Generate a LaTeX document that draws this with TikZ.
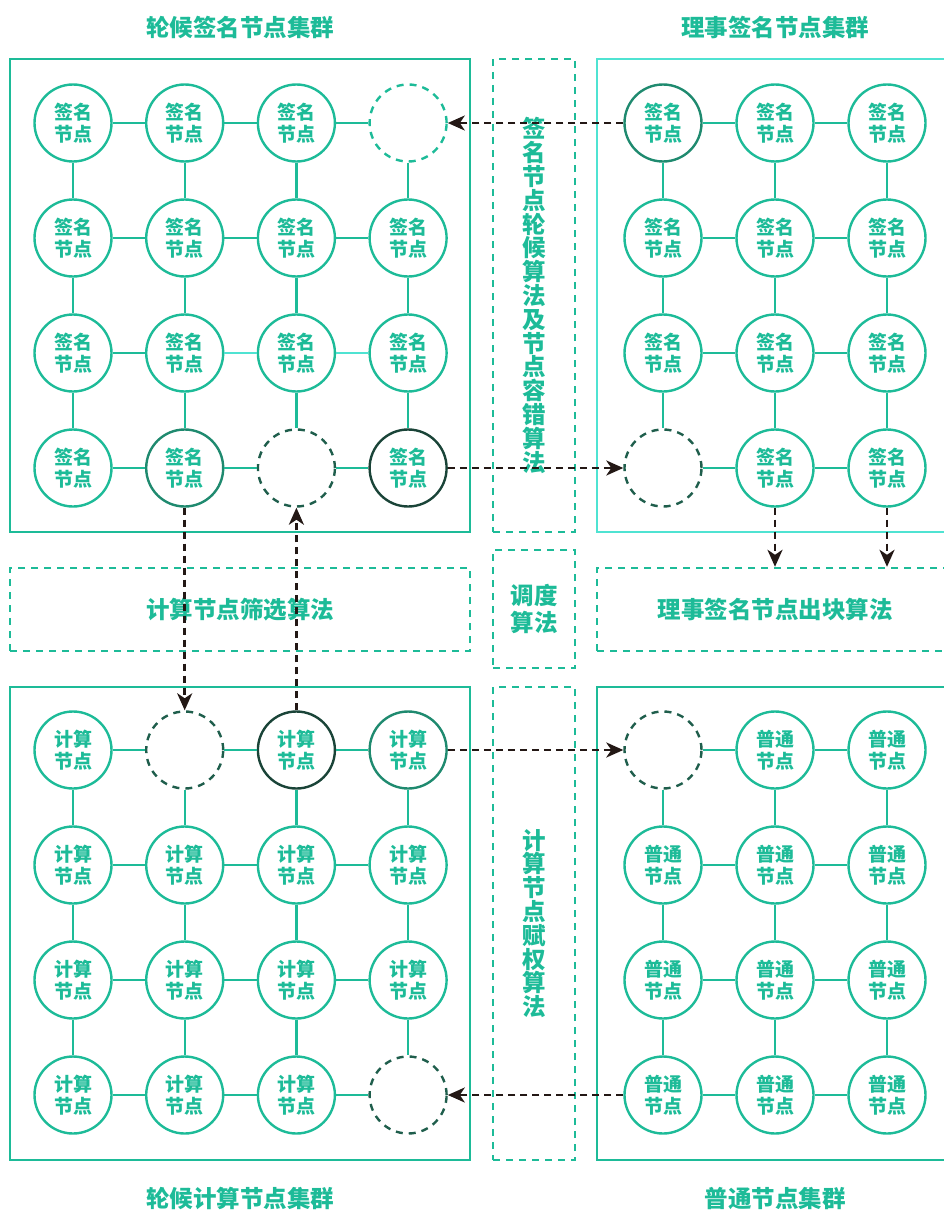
\documentclass[tikz,border=0pt]{standalone}
\usepackage{fontspec}
\newfontfamily\cjk{Noto Sans CJK SC}[BoldFont={Noto Sans CJK SC Black}]
\usetikzlibrary{arrows.meta}

\definecolor{mint}{HTML}{1DBB98}
\definecolor{mintlt}{HTML}{4FE3D2}
\definecolor{pine}{HTML}{1F8A6F}
\definecolor{forest}{HTML}{1A4438}
\definecolor{moss}{HTML}{1F5E4C}
\definecolor{ink}{HTML}{231815}

\tikzset{
  nd/.style={circle, draw=mint, line width=2.4pt, minimum size=77pt, inner sep=0pt,
    text=mint, align=center, font={\cjk\bfseries\fontsize{19}{22}\selectfont}},
  sig/.style={nd, node contents={签名\\节点}},
  sigM/.style={sig, draw=pine},
  sigD/.style={sig, draw=forest},
  cmp/.style={nd, node contents={计算\\节点}},
  cmpM/.style={cmp, draw=pine},
  cmpD/.style={cmp, draw=forest},
  nrm/.style={nd, node contents={普通\\节点}},
  gap/.style={circle, draw=moss, dashed, dash pattern=on 7pt off 6pt, line width=2.4pt,
    minimum size=77pt, node contents={}},
  gapT/.style={gap, draw=mint},
  link/.style={draw=mint, line width=2.4pt},
  frame/.style={draw=mint, line width=2.5pt, inner sep=0pt},
  algbox/.style={draw=mint, dashed, dash pattern=on 7pt off 6pt, line width=2.4pt,
    inner sep=0pt, text=mint, align=center, font={\cjk\bfseries\fontsize{23.5}{27}\selectfont}},
  vtext/.style={font={\cjk\bfseries\fontsize{23.5}{23.8}\selectfont}},
  title/.style={text=mint, font={\cjk\bfseries\fontsize{23.5}{27}\selectfont}},
  flow/.style={draw=ink, line width=2.6pt, dash pattern=on 7pt off 5pt,
    -{Stealth[length=17pt, width=15pt, inset=5pt]}},
}

\begin{document}
\begin{tikzpicture}[x=1pt, y=-1pt]
  \useasboundingbox (0,0) rectangle (944,1212);

  % 四个集群外框
  \node[frame, minimum width=460pt, minimum height=473pt] (tlbox) at (240,295.5) {};
  \node[frame, draw=mintlt, minimum width=356pt, minimum height=473pt] (trbox) at (775,295.5) {};
  \node[frame, minimum width=460pt, minimum height=473pt] (blbox) at (240,923.5) {};
  \node[frame, minimum width=356pt, minimum height=473pt] (brbox) at (775,923.5) {};

  % 集群标题
  \node[title] (tltitle) at (240,27) {轮候签名节点集群};
  \node[title] (trtitle) at (775,27) {理事签名节点集群};
  \node[title] (bltitle) at (240,1198) {轮候计算节点集群};
  \node[title] (brtitle) at (775,1198) {普通节点集群};

  % 算法框
  \node[algbox, vtext, minimum width=82pt, minimum height=473pt] (rota) at (534,295.5)
    {签\\名\\节\\点\\轮\\候\\算\\法\\及\\节\\点\\容\\错\\算\\法};
  \node[algbox, minimum width=82pt, minimum height=118pt] (sched) at (534,609) {调度\\算法};
  \node[algbox, vtext, minimum width=82pt, minimum height=473pt] (weigh) at (534,923.5)
    {计\\算\\节\\点\\赋\\权\\算\\法};
  \node[algbox, minimum width=460pt, minimum height=83pt] (filt) at (240,609.5) {计算节点筛选算法};
  \node[algbox, minimum width=356pt, minimum height=83pt] (blk) at (775,609.5) {理事签名节点出块算法};

  % 轮候签名节点
  \foreach \r/\row in {1/{sig,sig,sig,gapT}, 2/{sig,sig,sig,sig},
                       3/{sig,sig,sig,sig}, 4/{sig,sigM,gap,sigD}}
    \foreach \s [count=\c] in \row
      \node (tl-\r-\c) at ({73+111.7*(\c-1)}, {123+115*(\r-1)}) [\s];

  % 理事签名节点
  \foreach \r/\row in {1/{sigM,sig,sig}, 2/{sig,sig,sig},
                       3/{sig,sig,sig}, 4/{gap,sig,sig}}
    \foreach \s [count=\c] in \row
      \node (tr-\r-\c) at ({663+112*(\c-1)}, {123+115*(\r-1)}) [\s];

  % 轮候计算节点
  \foreach \r/\row in {1/{cmp,gap,cmpD,cmpM}, 2/{cmp,cmp,cmp,cmp},
                       3/{cmp,cmp,cmp,cmp}, 4/{cmp,cmp,cmp,gap}}
    \foreach \s [count=\c] in \row
      \node (bl-\r-\c) at ({73+111.7*(\c-1)}, {750+115*(\r-1)}) [\s];

  % 普通节点
  \foreach \r/\row in {1/{gap,nrm,nrm}, 2/{nrm,nrm,nrm},
                       3/{nrm,nrm,nrm}, 4/{nrm,nrm,nrm}}
    \foreach \s [count=\c] in \row
      \node (br-\r-\c) at ({663+112*(\c-1)}, {750+115*(\r-1)}) [\s];

  % 网格连线
  \foreach \g in {tl,bl} {
    \foreach \r in {1,...,4}
      \foreach \c/\n in {1/2,2/3,3/4}
        \draw[link] (\g-\r-\c) -- (\g-\r-\n);
    \foreach \c in {1,...,4}
      \foreach \r/\n in {1/2,2/3,3/4}
        \draw[link] (\g-\r-\c) -- (\g-\n-\c);
  }
  \foreach \g in {tr,br} {
    \foreach \r in {1,...,4}
      \foreach \c/\n in {1/2,2/3}
        \draw[link] (\g-\r-\c) -- (\g-\r-\n);
    \foreach \c in {1,...,3}
      \foreach \r/\n in {1/2,2/3,3/4}
        \draw[link] (\g-\r-\c) -- (\g-\n-\c);
  }
  \draw[link, draw=mintlt] (tl-3-2) -- (tl-3-3);
  \draw[link, draw=mintlt] (tl-3-3) -- (tl-3-4);

  % 节点流转
  \draw[flow] (tr-1-1) -- (tl-1-4);
  \draw[flow] (tl-4-4) -- (tr-4-1);
  \draw[flow] (tl-4-2) -- (bl-1-2);
  \draw[flow] (bl-1-3) -- (tl-4-3);
  \draw[flow] (tr-4-2) -- (tr-4-2 |- blk.north);
  \draw[flow] (tr-4-3) -- (tr-4-3 |- blk.north);
  \draw[flow] (bl-1-4) -- (br-1-1);
  \draw[flow] (br-4-1) -- (bl-4-4);
\end{tikzpicture}
\end{document}
